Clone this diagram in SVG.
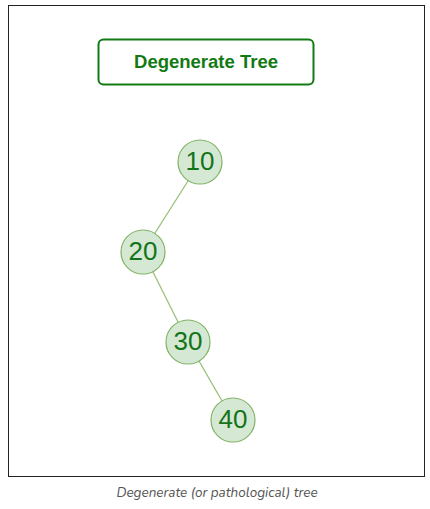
<svg xmlns="http://www.w3.org/2000/svg" width="430" height="509" viewBox="0 0 430 509">
<style>
.node circle{fill:#d5e8d4;stroke:#82b366;stroke-width:1.2}
.node text{font-family:"Liberation Sans",Arial,sans-serif;font-size:26px;fill:#13741a;text-anchor:middle;dominant-baseline:central}
.edge{stroke:#97c27a;stroke-width:1.3;fill:none}
</style>
<rect x="0" y="0" width="430" height="509" fill="#ffffff"/>
<rect x="8.5" y="5.5" width="416" height="471" fill="#ffffff" stroke="#222" stroke-width="1"/>
<g id="title">
<rect x="98.5" y="39.5" width="215" height="45" rx="5" fill="#ffffff" stroke="#127a12" stroke-width="2"/>
<text x="206" y="61" font-family="Liberation Sans,Arial,sans-serif" font-size="18.5" font-weight="bold" fill="#127a12" text-anchor="middle" dominant-baseline="central">Degenerate Tree</text>
</g>
<g id="connectors">
<line class="edge" x1="200" y1="162" x2="143" y2="252"/>
<line class="edge" x1="143" y1="252" x2="188" y2="342"/>
<line class="edge" x1="188" y1="342" x2="233" y2="420"/>
</g>
<g id="n10" class="node"><circle cx="200" cy="162" r="22"/><text x="200" y="161">10</text></g>
<g id="n20" class="node"><circle cx="143" cy="252" r="22"/><text x="143" y="251">20</text></g>
<g id="n30" class="node"><circle cx="188" cy="342" r="22"/><text x="188" y="341">30</text></g>
<g id="n40" class="node"><circle cx="233" cy="420" r="22"/><text x="233" y="419">40</text></g>
<text x="217" y="492" font-family="Nunito,'Open Sans',sans-serif" font-size="13.5" font-style="italic" fill="#555" text-anchor="middle" dominant-baseline="central">Degenerate (or pathological) tree</text>
</svg>
